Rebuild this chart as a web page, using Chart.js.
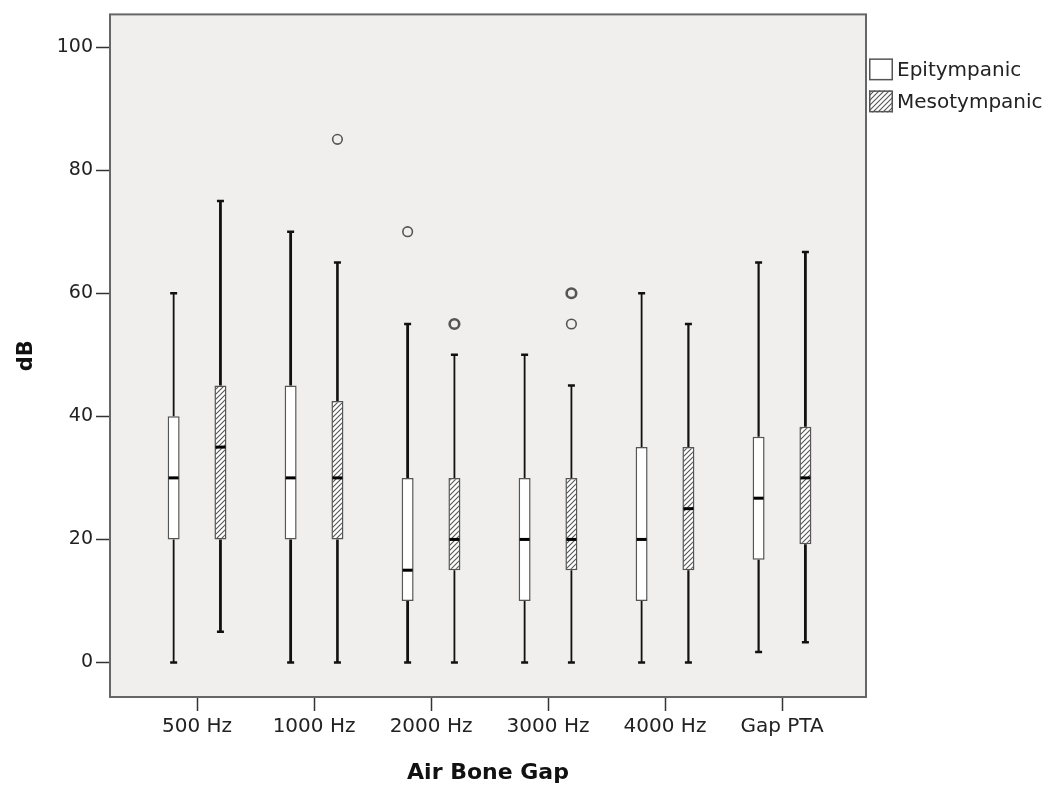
<!DOCTYPE html>
<html>
<head>
<meta charset="utf-8">
<script src="https://cdn.jsdelivr.net/npm/chart.js@4/dist/chart.umd.min.js"></script>
<style>
  html, body { margin: 0; padding: 0; background: #fff; }
  #wrap { width: 1055px; height: 789px; }
</style>
</head>
<body>
<div id="wrap"><canvas id="abg-chart"></canvas></div>
<script>
// values (dB)
const categories = ['500 Hz', '1000 Hz', '2000 Hz', '3000 Hz', '4000 Hz', 'Gap PTA'];
const yTicks = [0, 20, 40, 60, 80, 100];

const epiMin    = [0, 0, 0, 0, 0, 1.7];
const epiQ1     = [20, 20, 10, 10, 10, 16.7];
const epiMedian = [30, 30, 15, 20, 20, 26.7];
const epiQ3     = [40, 45, 30, 30, 35, 36.7];
const epiMax    = [60, 70, 55, 50, 60, 65];
const epiOutliers = [[], [], [70], [], [], []];

const mesoMin    = [5, 0, 0, 0, 0, 3.3];
const mesoQ1     = [20, 20, 15, 15, 15, 19.2];
const mesoMedian = [35, 30, 20, 20, 25, 30];
const mesoQ3     = [45, 42.5, 30, 30, 35, 38.3];
const mesoMax    = [75, 65, 50, 45, 55, 66.7];
const mesoOutliers = [[], [85], [55, 55], [60, 60, 55], [], []];

// whisker stroke weight per box (style only)
const epiWhiskerW  = [1.8, 2.8, 2.8, 1.8, 1.8, 2.2];
const mesoWhiskerW = [2.8, 2.6, 1.8, 1.8, 2.2, 2.8];

const font = 'DejaVu Sans';

function hatchPattern() {
    const c = document.createElement('canvas');
    c.width = 5; c.height = 5;
    const g = c.getContext('2d');
    g.fillStyle = '#ffffff';
    g.fillRect(0, 0, 5, 5);
    g.strokeStyle = '#555555';
    g.lineWidth = 1.1;
    g.beginPath();
    g.moveTo(0, 5); g.lineTo(5, 0);
    g.moveTo(-1, 1); g.lineTo(1, -1);
    g.moveTo(4, 6); g.lineTo(6, 4);
    g.stroke();
    return g.createPattern(c, 'repeat');
}

const boxStats = [
    { min: epiMin, med: epiMedian, max: epiMax, out: epiOutliers, w: epiWhiskerW },
    { min: mesoMin, med: mesoMedian, max: mesoMax, out: mesoOutliers, w: mesoWhiskerW }
];

const boxplotPlugin = {
    id: 'boxplotParts',
    beforeDraw(chart) {
        const { ctx, chartArea: a } = chart;
        ctx.save();
        ctx.fillStyle = '#ffffff';
        ctx.fillRect(0, 0, chart.width, chart.height);
        ctx.fillStyle = '#f0efee';
        ctx.fillRect(a.left, a.top, a.right - a.left, a.bottom - a.top);
        ctx.restore();
    },
    afterDatasetsDraw(chart) {
        const { ctx } = chart;
        const y = chart.scales.y;
        ctx.save();
        chart.data.datasets.forEach((ds, d) => {
            const st = boxStats[d];
            chart.getDatasetMeta(d).data.forEach((bar, i) => {
                const x = bar.x;
                const hw = bar.width / 2;
                const q1 = ds.data[i].y[0], q3 = ds.data[i].y[1];
                // whiskers
                ctx.strokeStyle = '#111';
                ctx.lineWidth = st.w[i];
                ctx.beginPath();
                ctx.moveTo(x, y.getPixelForValue(q3));
                ctx.lineTo(x, y.getPixelForValue(st.max[i]));
                ctx.moveTo(x, y.getPixelForValue(q1));
                ctx.lineTo(x, y.getPixelForValue(st.min[i]));
                ctx.stroke();
                // caps
                ctx.lineWidth = 2.5;
                ctx.beginPath();
                [st.max[i], st.min[i]].forEach(v => {
                    const py = y.getPixelForValue(v);
                    ctx.moveTo(x - 3.5, py);
                    ctx.lineTo(x + 3.5, py);
                });
                ctx.stroke();
                // median
                ctx.lineWidth = 3;
                ctx.strokeStyle = '#000';
                ctx.beginPath();
                const pm = y.getPixelForValue(st.med[i]);
                ctx.moveTo(x - hw + 1, pm);
                ctx.lineTo(x + hw - 1, pm);
                ctx.stroke();
                // outliers (repeated values drawn heavier)
                const counts = {};
                st.out[i].forEach(v => { counts[v] = (counts[v] || 0) + 1; });
                Object.keys(counts).forEach(k => {
                    ctx.strokeStyle = '#555';
                    ctx.lineWidth = counts[k] > 1 ? 2.6 : 1.6;
                    ctx.beginPath();
                    ctx.arc(x, y.getPixelForValue(+k), 4.8, 0, Math.PI * 2);
                    ctx.stroke();
                });
            });
        });
        ctx.restore();
    },
    afterDraw(chart) {
        const { ctx, chartArea: a } = chart;
        ctx.save();
        ctx.strokeStyle = '#666';
        ctx.lineWidth = 2;
        ctx.strokeRect(a.left, a.top, a.right - a.left, a.bottom - a.top);
        // legend
        ctx.font = '20px "' + font + '"';
        ctx.textBaseline = 'middle';
        ctx.textAlign = 'left';
        chart.data.datasets.forEach((ds, d) => {
            const bx = a.right + 3, by = a.top + 44 + d * 32;
            ctx.fillStyle = ds.backgroundColor;
            ctx.fillRect(bx, by, 24, 22);
            ctx.strokeStyle = '#555';
            ctx.lineWidth = 1.5;
            ctx.strokeRect(bx + 0.75, by + 0.75, 22.5, 20.5);
            ctx.fillStyle = '#222';
            ctx.fillText(ds.label, bx + 28, by + 12);
        });
        ctx.restore();
    }
};

const ctx = document.getElementById('abg-chart').getContext('2d');
const abgChart = new Chart(ctx, {
    type: 'bar',
    data: {
        datasets: [{
            label: 'Epitympanic',
            data: categories.map((c, i) => ({ x: i + 1, y: [epiQ1[i], epiQ3[i]] })),
            backgroundColor: '#ffffff',
            borderColor: '#555555',
            borderWidth: 1.5,
            borderSkipped: false
        }, {
            label: 'Mesotympanic',
            data: categories.map((c, i) => ({ x: i + 1, y: [mesoQ1[i], mesoQ3[i]] })),
            backgroundColor: hatchPattern(),
            borderColor: '#555555',
            borderWidth: 1.5,
            borderSkipped: false
        }]
    },
    options: {
        responsive: true,
        maintainAspectRatio: false,
        animation: false,
        categoryPercentage: 0.8,
        barPercentage: 0.256,
        layout: { padding: { top: 11, right: 189, left: 0, bottom: 0 } },
        plugins: {
            legend: { display: false },
            tooltip: { enabled: false }
        },
        scales: {
            x: {
                type: 'linear',
                offset: false,
                min: 0.256,
                max: 6.718,
                afterBuildTicks: s => { s.ticks = categories.map((c, i) => ({ value: i + 1 })); },
                afterFit: s => { s.height = 92; },
                grid: { offset: false, drawOnChartArea: false, drawTicks: true, tickLength: 14, tickColor: '#333', tickWidth: 1.5 },
                border: { display: false },
                ticks: {
                    autoSkip: false,
                    maxRotation: 0,
                    padding: 4,
                    color: '#222',
                    font: { family: font, size: 20 },
                    callback: v => categories[v - 1]
                },
                title: {
                    display: true,
                    text: 'Air Bone Gap',
                    color: '#111',
                    font: { family: font, size: 22, weight: 'bold' },
                    padding: { top: 0, bottom: 3 }
                }
            },
            y: {
                min: -5.6,
                max: 105.3,
                afterBuildTicks: s => { s.ticks = yTicks.map(v => ({ value: v })); },
                afterFit: s => { s.width = 110; },
                grid: { drawOnChartArea: false, drawTicks: true, tickLength: 14, tickColor: '#333', tickWidth: 1.5 },
                border: { display: false },
                ticks: {
                    padding: 3,
                    color: '#222',
                    font: { family: font, size: 19 }
                },
                title: {
                    display: true,
                    text: 'dB',
                    color: '#111',
                    font: { family: font, size: 21, weight: 'bold' },
                    padding: { top: 14, bottom: 0 }
                }
            }
        }
    },
    plugins: [boxplotPlugin]
});
</script>
</body>
</html>
